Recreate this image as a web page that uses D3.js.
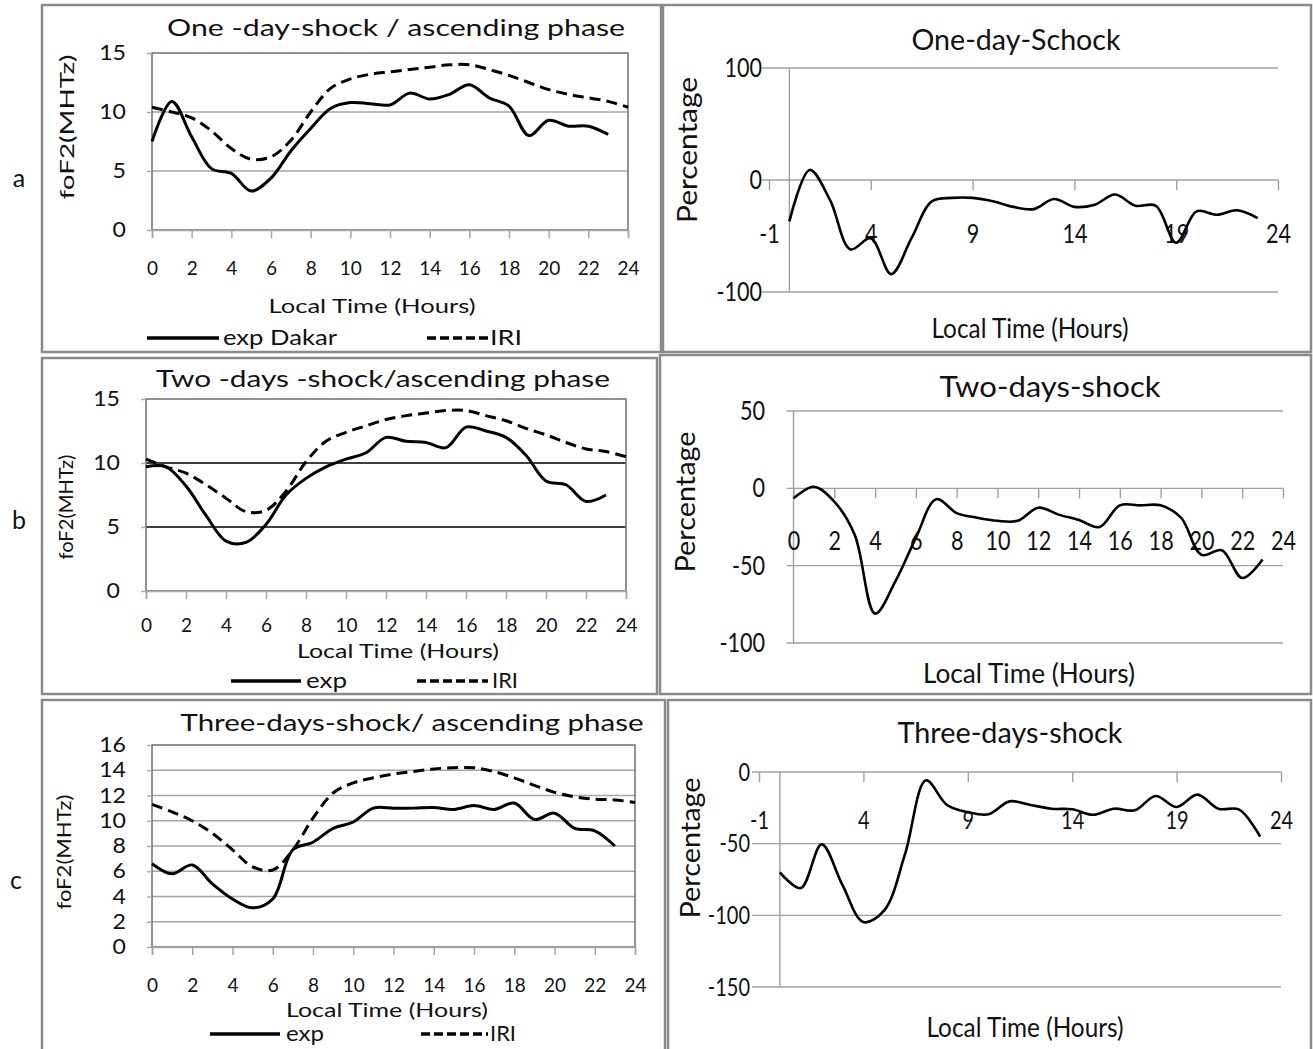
<!DOCTYPE html>
<html>
<head>
<meta charset="utf-8">
<script src="https://cdn.jsdelivr.net/npm/d3@7"></script>
<style>
  body { margin: 0; background: #fff; }
  svg { display: block; font-family: Lato, "Open Sans", sans-serif; }
</style>
</head>
<body>
<div id="chart"></div>
<script>
// ---- data ----
const hoursExp = [0, 1, 2, 3, 4, 5, 6, 7, 8, 9, 10, 11, 12, 13, 14, 15, 16, 17, 18, 19, 20, 21, 22, 23];
const hoursIri = [0, 1, 2, 3, 4, 5, 6, 7, 8, 9, 10, 11, 12, 13, 14, 15, 16, 17, 18, 19, 20, 21, 22, 23, 24];

// foF2 (MHz), panel a
const oneDayExp = [7.5, 10.9, 7.9, 5.2, 4.8, 3.3, 4.4, 6.7, 8.6, 10.3, 10.8, 10.7, 10.6, 11.6, 11.1, 11.5, 12.3, 11.2, 10.5, 8.0, 9.3, 8.8, 8.8, 8.1];
const oneDayIri = [10.4, 10.0, 9.5, 8.4, 6.9, 6.0, 6.2, 7.6, 10.0, 12.0, 12.8, 13.2, 13.4, 13.6, 13.8, 14.0, 14.0, 13.6, 13.1, 12.5, 11.9, 11.5, 11.2, 10.9, 10.4];
// panel b
const twoDayExp = [9.7, 9.7, 8.2, 5.9, 3.9, 3.8, 5.2, 7.5, 8.8, 9.7, 10.3, 10.8, 12.0, 11.7, 11.6, 11.2, 12.8, 12.5, 12.0, 10.6, 8.6, 8.3, 7.0, 7.5];
const twoDayIri = [10.3, 9.7, 9.2, 8.3, 7.25, 6.2, 6.3, 7.8, 10.1, 11.7, 12.4, 12.9, 13.4, 13.7, 13.9, 14.1, 14.1, 13.7, 13.3, 12.7, 12.2, 11.6, 11.1, 10.9, 10.5];
// panel c
const threeDayExp = [6.6, 5.8, 6.5, 5.0, 3.8, 3.1, 3.8, 7.7, 8.3, 9.4, 9.9, 11.0, 11.0, 11.0, 11.05, 10.9, 11.2, 10.9, 11.4, 10.1, 10.6, 9.4, 9.2, 8.0];
const threeDayIri = [11.3, 10.7, 10.0, 9.0, 7.7, 6.35, 6.1, 7.7, 10.2, 12.2, 13.0, 13.4, 13.7, 13.9, 14.1, 14.2, 14.2, 13.9, 13.4, 12.8, 12.25, 11.9, 11.7, 11.65, 11.45];

// deviation in percent
const oneDayPct = [-37, 9, -18, -62, -52, -84, -52, -19, -16, -16, -19, -24, -26, -17, -24, -22, -13, -23, -23, -56, -28, -31, -27, -34];
const twoDayPct = [-6.5, 1, -8.6, -30, -81, -60, -32, -7, -16, -19, -21, -21, -12.5, -17, -20.5, -25, -11, -11, -11, -19, -43, -40, -58, -46];
const threeDayPct = [-70, -81, -50.5, -79, -104.7, -96.5, -57, -5.8, -23, -28, -29.5, -20.5, -23, -25.6, -26, -29.8, -25.6, -26.7, -16.7, -24.4, -15.8, -25.6, -26.3, -45];

// tick labels
const xTicksLeft = [0, 2, 4, 6, 8, 10, 12, 14, 16, 18, 20, 22, 24];
const xTicksOdd = [-1, 4, 9, 14, 19, 24];
const yTicksA = [0, 5, 10, 15];
const yTicksC = [0, 2, 4, 6, 8, 10, 12, 14, 16];
const yTicksPctA = [-100, 0, 100];
const yTicksPctB = [-100, -50, 0, 50];
const yTicksPctC = [-150, -100, -50, 0];

const W = 1313, H = 1049;
const svg = d3.select("#chart").append("svg").attr("width", W).attr("height", H);

// plain hyphen minus, as in the original
const plain = d => String(d);

// text helper, optional fitted length and rotation
function label(g, str, x, y, o = {}) {
  const t = g.append("text")
    .attr("x", x).attr("y", y).attr("dy", "0.35em")
    .attr("text-anchor", o.anchor || "middle")
    .attr("font-size", o.size || 20)
    .attr("fill", "#111")
    .text(str);
  if (o.len) t.attr("textLength", o.len).attr("lengthAdjust", "spacingAndGlyphs");
  if (o.rotate) t.attr("transform", `rotate(-90,${x},${y})`);
  return t;
}

// scale tick text horizontally around its own anchor
function squeeze(sel, s) {
  sel.attr("transform", function () {
    const x = +this.getAttribute("x") || 0;
    return `translate(${x},0) scale(${s},1) translate(${-x},0)`;
  });
}

function frame(g, b) {
  g.append("rect")
    .attr("x", b[0]).attr("y", b[1])
    .attr("width", b[2] - b[0]).attr("height", b[3] - b[1])
    .attr("fill", "none").attr("stroke", "#8a8a8a").attr("stroke-width", 2.5);
}

const smooth = d3.curveCatmullRom.alpha(0.5);

// ---- left column: foF2 vs local time ----
function leftPanel(p) {
  const g = svg.append("g");
  frame(g, p.box);

  const x = d3.scaleLinear().domain([0, 24]).range([p.x0, p.x1]);
  const y = d3.scaleLinear().domain([0, p.yMax]).range([p.yb, p.yt]);

  // gridlines
  g.append("g").selectAll("line")
    .data(p.yTicks.filter(v => v > 0 && v < p.yMax))
    .join("line")
    .attr("x1", p.x0).attr("x2", p.x1)
    .attr("y1", d => y(d)).attr("y2", d => y(d))
    .attr("stroke", p.grid).attr("stroke-width", 1.4);

  // plot frame
  g.append("rect")
    .attr("x", p.x0).attr("y", p.yt)
    .attr("width", p.x1 - p.x0).attr("height", p.yb - p.yt)
    .attr("fill", "none").attr("stroke", "#6f6f6f").attr("stroke-width", 1.5);

  // x axis
  const xa = g.append("g").attr("transform", `translate(0,${p.yb})`)
    .call(d3.axisBottom(x).tickValues(xTicksLeft).tickSize(8).tickFormat(plain))
    .attr("font-family", null).attr("font-size", null);
  xa.select(".domain").attr("stroke", "#a6a6a6").attr("stroke-width", 1.5);
  xa.selectAll(".tick line").attr("stroke", "#a6a6a6").attr("stroke-width", 1.5);
  xa.selectAll("text")
    .attr("y", p.xLabelY - p.yb).attr("dy", "0.35em")
    .attr("font-size", 19).attr("fill", "#111");

  // y axis labels
  const ya = g.append("g").attr("transform", `translate(${p.x0},0)`)
    .call(d3.axisLeft(y).tickValues(p.yTicks).tickSize(5).tickPadding(21).tickFormat(plain))
    .attr("font-family", null).attr("font-size", null);
  ya.select(".domain").remove();
  ya.selectAll(".tick line").attr("stroke", "#a6a6a6").attr("stroke-width", 1.4);
  ya.selectAll("text").attr("font-size", 21).attr("fill", "#111").call(squeeze, 1.1);

  // curves
  const line = d3.line().x(d => x(d[0])).y(d => y(d[1])).curve(smooth);
  g.append("path")
    .datum(d3.zip(hoursIri, p.iri))
    .attr("d", line)
    .attr("fill", "none").attr("stroke", "#000").attr("stroke-width", 3)
    .attr("stroke-dasharray", "11,6");
  g.append("path")
    .datum(d3.zip(hoursExp, p.exp))
    .attr("d", line)
    .attr("fill", "none").attr("stroke", "#000").attr("stroke-width", 3);

  // titles
  label(g, p.title, p.titlePos[0], p.titlePos[1], { size: 24, len: p.titlePos[2] });
  label(g, "Local Time (Hours)", p.xTitle[0], p.xTitle[1], { size: 20, len: p.xTitle[2] });
  label(g, "foF2(MHTz)", p.yTitle[0], p.yTitle[1], { size: 19, len: p.yTitle[2], rotate: true });
  label(g, p.tag, p.tagPos[0], p.tagPos[1], { size: 25 });

  // legend
  const ly = p.legendY;
  g.append("line").attr("x1", p.solid[0]).attr("x2", p.solid[1]).attr("y1", ly).attr("y2", ly)
    .attr("stroke", "#000").attr("stroke-width", 3.5);
  label(g, p.expName, p.expText[0], ly, { size: 21, anchor: "start", len: p.expText[1] });
  g.append("line").attr("x1", p.dash[0]).attr("x2", p.dash[1]).attr("y1", ly).attr("y2", ly)
    .attr("stroke", "#000").attr("stroke-width", 3.5).attr("stroke-dasharray", "9,4");
  label(g, "IRI", p.iriText[0], ly, { size: 21, anchor: "start", len: p.iriText[1] });
}

// ---- right column: percentage deviation ----
function rightPanel(p) {
  const g = svg.append("g");
  frame(g, p.box);

  const x = d3.scaleLinear().domain([p.xMin, 24]).range([p.x0, p.x1]);
  const y = d3.scaleLinear().domain([p.yMin, p.yMax]).range([p.yb, p.yt]);

  // gridlines with short left ticks
  g.append("g").selectAll("line")
    .data(p.yTicks)
    .join("line")
    .attr("x1", p.x0 - 7).attr("x2", p.x1)
    .attr("y1", d => y(d)).attr("y2", d => y(d))
    .attr("stroke", "#a0a0a0").attr("stroke-width", 1.4);

  // vertical axis at hour 0
  g.append("line")
    .attr("x1", x(0)).attr("x2", x(0))
    .attr("y1", p.yt).attr("y2", p.yb)
    .attr("stroke", "#a0a0a0").attr("stroke-width", 1.4);

  // x axis sits on the zero line
  const xa = g.append("g").attr("transform", `translate(0,${y(0)})`)
    .call(d3.axisBottom(x).tickValues(p.xTicks).tickSize(10).tickFormat(plain))
    .attr("font-family", null).attr("font-size", null);
  xa.select(".domain").remove();
  xa.selectAll(".tick line").attr("stroke", "#a0a0a0").attr("stroke-width", 1.4);
  xa.selectAll("text")
    .attr("y", p.xLabelOff).attr("dy", "0.35em")
    .attr("font-size", p.tickSize || 27).attr("fill", "#111").call(squeeze, 0.8);

  // y labels
  const ya = g.append("g").attr("transform", `translate(${p.x0},0)`)
    .call(d3.axisLeft(y).tickValues(p.yTicks).tickSize(0).tickPadding(p.x0 - p.yLabelRight).tickFormat(plain))
    .attr("font-family", null).attr("font-size", null);
  ya.select(".domain").remove();
  ya.selectAll("text").attr("font-size", p.tickSize || 27).attr("fill", "#111").call(squeeze, 0.8);

  const line = d3.line().x(d => x(d[0])).y(d => y(d[1])).curve(smooth);
  g.append("path")
    .datum(d3.zip(hoursExp, p.pct))
    .attr("d", line)
    .attr("fill", "none").attr("stroke", "#000").attr("stroke-width", 2.6);

  label(g, p.title, p.titlePos[0], p.titlePos[1], { size: 28, len: p.titlePos[2] });
  label(g, "Local Time (Hours)", p.xTitle[0], p.xTitle[1], { size: 27, len: p.xTitle[2] });
  label(g, "Percentage", p.yTitle[0], p.yTitle[1], { size: 27, len: p.yTitle[2], rotate: true });
}

leftPanel({
  box: [42, 5, 661, 352], tag: "a", tagPos: [19, 178],
  x0: 152, x1: 628, yt: 53, yb: 230, yMax: 15, yTicks: yTicksA, grid: "#a6a6a6",
  exp: oneDayExp, iri: oneDayIri,
  title: "One -day-shock / ascending phase", titlePos: [396, 28, 458],
  xLabelY: 268, xTitle: [372, 306, 207], yTitle: [67, 127, 145],
  legendY: 338, solid: [147, 219], expName: "exp Dakar", expText: [223, 114],
  dash: [427, 488], iriText: [490, 32]
});

leftPanel({
  box: [42, 358, 657, 694], tag: "b", tagPos: [19, 520],
  x0: 146, x1: 626, yt: 399, yb: 591, yMax: 15, yTicks: yTicksA, grid: "#000",
  exp: twoDayExp, iri: twoDayIri,
  title: "Two -days -shock/ascending phase", titlePos: [383, 379, 454],
  xLabelY: 625, xTitle: [398, 651, 202], yTitle: [66, 507, 105],
  legendY: 681, solid: [231, 301], expName: "exp", expText: [306, 41],
  dash: [417, 488], iriText: [492, 26]
});

leftPanel({
  box: [42, 700, 665, 1052], tag: "c", tagPos: [16, 880],
  x0: 152, x1: 635, yt: 745, yb: 947, yMax: 16, yTicks: yTicksC, grid: "#a6a6a6",
  exp: threeDayExp, iri: threeDayIri,
  title: "Three-days-shock/ ascending phase", titlePos: [412, 723, 463],
  xLabelY: 985, xTitle: [387, 1010, 202], yTitle: [64, 852, 115],
  legendY: 1034, solid: [210, 280], expName: "exp", expText: [286, 38],
  dash: [421, 488], iriText: [490, 26]
});

rightPanel({
  box: [663, 5, 1311, 352],
  xMin: -1, x0: 769, x1: 1278, yMin: -100, yMax: 100, yt: 68, yb: 292,
  yTicks: yTicksPctA, xTicks: xTicksOdd, xLabelOff: 54, yLabelRight: 762,
  pct: oneDayPct,
  title: "One-day-Schock", titlePos: [1016, 40, 209],
  xTitle: [1030, 329, 197], yTitle: [688, 150, 146]
});

rightPanel({
  box: [660, 355, 1311, 694],
  xMin: 0, x0: 793.5, x1: 1283, yMin: -100, yMax: 50, yt: 411, yb: 643,
  yTicks: yTicksPctB, xTicks: xTicksLeft, xLabelOff: 52, yLabelRight: 765,
  pct: twoDayPct,
  title: "Two-days-shock", titlePos: [1050, 387, 221],
  xTitle: [1029, 674, 212], yTitle: [686, 502, 141]
});

rightPanel({
  box: [668, 700, 1311, 1052],
  xMin: -1, x0: 759, x1: 1281, yMin: -150, yMax: 0, yt: 772, yb: 987,
  yTicks: yTicksPctC, xTicks: xTicksOdd, xLabelOff: 48, yLabelRight: 750, tickSize: 25,
  pct: threeDayPct,
  title: "Three-days-shock", titlePos: [1010, 733, 225],
  xTitle: [1025, 1028, 197], yTitle: [691, 848, 141]
});
</script>
</body>
</html>
